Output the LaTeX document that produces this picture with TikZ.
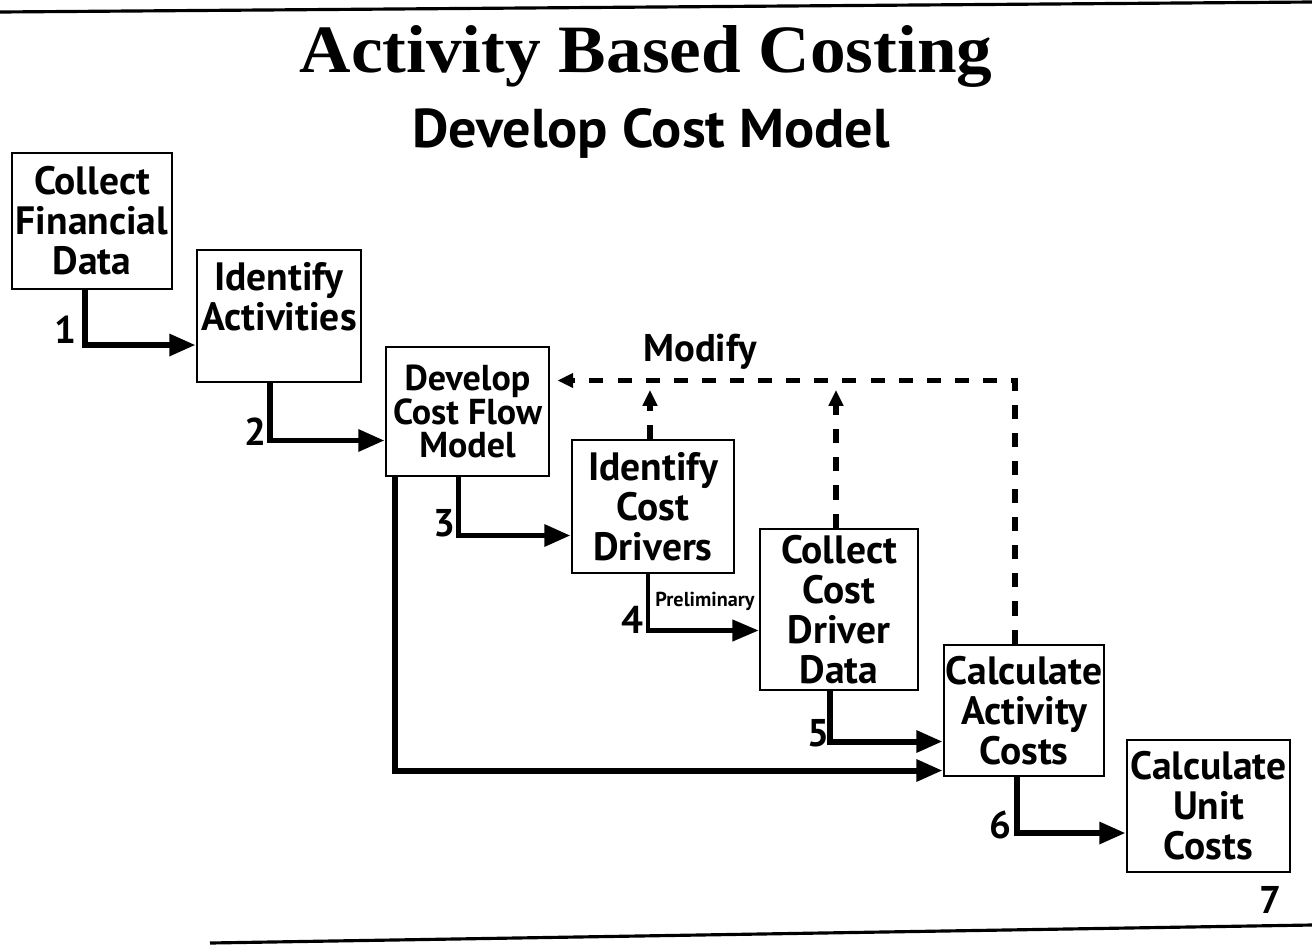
\documentclass[tikz,border=0pt]{standalone}
\usepackage{graphicx}
\usepackage{fontspec}
\setmainfont{PT Sans}
\newfontfamily\headserif{Liberation Serif}
\usetikzlibrary{arrows.meta,calc}

\newcommand{\boxfont}{\bfseries\fontsize{22.5}{22.7}\selectfont}

\begin{document}
\begin{tikzpicture}[x=0.02cm,y=-0.02cm,
  task/.style={draw,line width=1.6pt,inner sep=0pt,align=center,font=\boxfont},
  flow/.style={line width=3.4pt,-{Triangle[length=15pt,width=12pt]}},
  fback/.style={line width=3pt,dash pattern=on 8pt off 8pt,-{Triangle[length=9pt,width=8pt]}},
  num/.style={font=\bfseries\fontsize{22}{24}\selectfont}]
\useasboundingbox [fill=white] (0,0) rectangle (1312,944);
\draw [line width=1.8pt] (0,12) -- (1312,2);
\draw [line width=1.8pt] (210,943) -- (1312,925);
\node [anchor=base] (title) at (646,72) {\resizebox{13.86cm}{0.94cm}{\headserif\bfseries Activity Based Costing}};
\node [anchor=base] (subtitle) at (651,147) {\resizebox{9.56cm}{0.78cm}{\bfseries Develop Cost Model}};
\node [task,minimum width=3.2cm,minimum height=2.72cm] (cfd) at (92,221) {Collect\\Financial\\Data};
\node [task,minimum width=3.28cm,minimum height=2.64cm] (ida) at (279,316) {Identify\\Activities\\\phantom{X}};
\node [task,minimum width=3.26cm,minimum height=2.58cm,font=\bfseries\fontsize{20.5}{18.7}\selectfont] (dcf) at (467.5,411.5) {Develop\\Cost Flow\\Model};
\node [task,minimum width=3.24cm,minimum height=2.66cm] (icd) at (653,506.5) {Identify\\Cost\\Drivers};
\node [task,minimum width=3.16cm,minimum height=3.22cm] (ccd) at (839,609.5) {Collect\\Cost\\Driver\\Data};
\node [task,minimum width=3.2cm,minimum height=2.62cm] (cac) at (1024,710.5) {Calculate\\Activity\\Costs};
\node [task,minimum width=3.26cm,minimum height=2.64cm] (cuc) at (1208.5,806) {Calculate\\Unit\\Costs};
\node [num] (n1) at (65,330) {1};
\node [num] (n2) at (255,432) {2};
\node [num] (n3) at (444,523) {3};
\node [num] (n4) at (632,620) {4};
\node [num] (n5) at (818,733) {5};
\node [num] (n6) at (1000,825) {6};
\node [num] (n7) at (1270,900) {7};
\node [font=\bfseries\fontsize{22}{24}\selectfont] (modify) at (700,352) {Modify};
\node [font=\bfseries\fontsize{11.5}{12}\selectfont] (prelim) at (705,601) {Preliminary};
\coordinate (mod) at (700,380);
\draw [flow] ($(cfd.south)+(-7,0)$) |- ($(ida.west)+(0,29)$);
\draw [flow] ($(ida.south)+(-9,0)$) |- ($(dcf.west)+(0,29)$);
\draw [flow] ($(dcf.south)+(-9,0)$) |- ($(icd.west)+(0,29)$);
\draw [flow,line width=2.4pt] ($(icd.south)+(-5,0)$) |- ($(ccd.west)+(0,21)$);
\draw [flow] ($(ccd.south)+(-9,0)$) |- ($(cac.west)+(0,31)$);
\draw [flow] ($(dcf.south west)+(10,0)$) |- ($(cac.west)+(0,60)$);
\draw [flow] ($(cac.south)+(-7,0)$) |- ($(cuc.west)+(0,27)$);
\draw [fback] ($(cac.north)+(-9,0)$) |- ($(dcf.east)+(7,-31)$);
\draw [fback] ($(icd.north)+(-3,0)$) -- ($(icd.north |- mod)+(-3,10)$);
\draw [fback] ($(ccd.north)+(-3,0)$) -- ($(ccd.north |- mod)+(-3,10)$);
\end{tikzpicture}
\end{document}
